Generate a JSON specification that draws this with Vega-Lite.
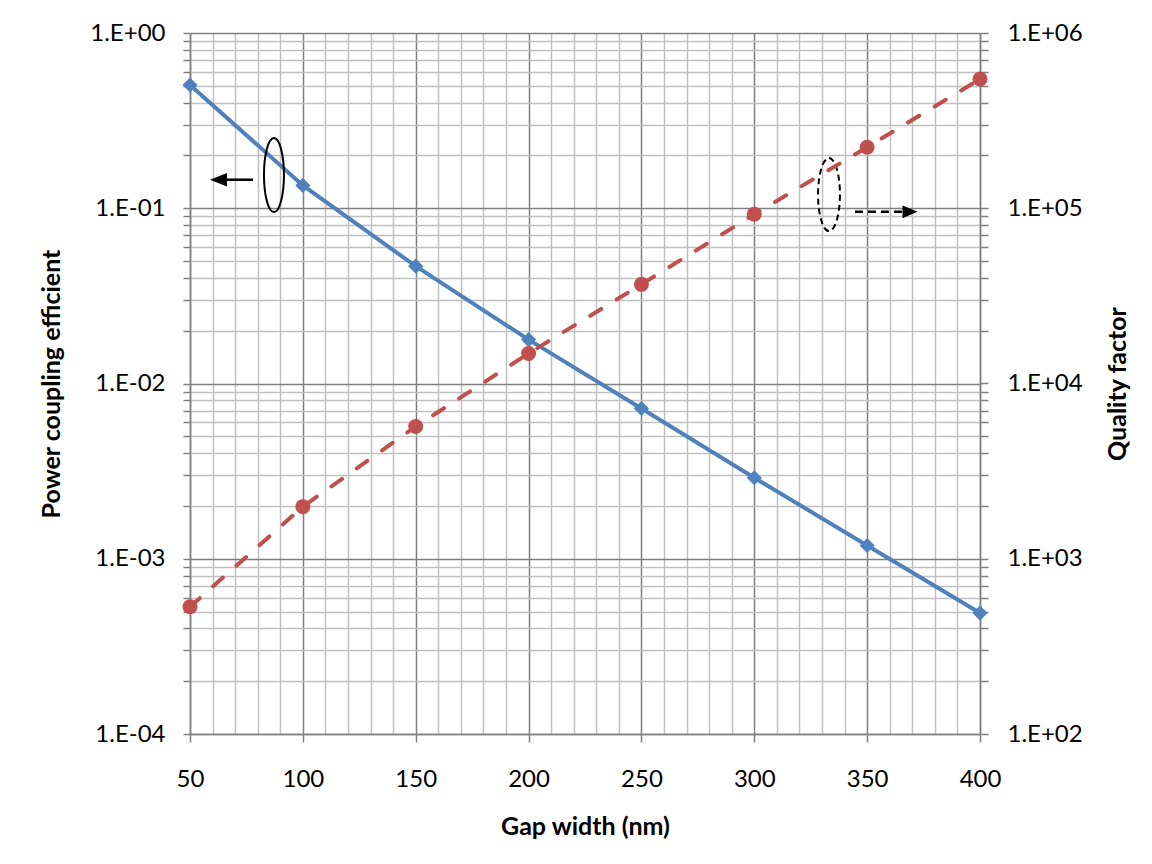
{
  "$schema": "https://vega.github.io/schema/vega-lite/v6.json",
  "width": 790,
  "height": 701,
  "autosize": {"type": "none"},
  "padding": {"left": 190, "top": 33, "right": 172, "bottom": 130},
  "background": "white",
  "config": {
    "view": {"stroke": null},
    "font": "Lato",
    "axis": {
      "labelFont": "Lato",
      "labelFontSize": 24,
      "labelColor": "#000000",
      "titleFont": "Lato",
      "titleFontSize": 25,
      "titleFontWeight": "bold",
      "titleColor": "#000000",
      "domainColor": "#808080",
      "domainWidth": 1.5,
      "tickColor": "#808080",
      "tickWidth": 1.5,
      "labelOverlap": false,
      "labelBound": false,
      "labelFlush": false
    }
  },
  "datasets": {
    "coupling": [
      {"gap": 50, "coupling": 0.505},
      {"gap": 100, "coupling": 0.135},
      {"gap": 150, "coupling": 0.0467},
      {"gap": 200, "coupling": 0.0178},
      {"gap": 250, "coupling": 0.0072},
      {"gap": 300, "coupling": 0.0029},
      {"gap": 350, "coupling": 0.00119},
      {"gap": 400, "coupling": 0.00049}
    ],
    "quality": [
      {"gap": 50, "quality": 532},
      {"gap": 100, "quality": 1983},
      {"gap": 150, "quality": 5680},
      {"gap": 200, "quality": 14840},
      {"gap": 250, "quality": 36800},
      {"gap": 300, "quality": 92400},
      {"gap": 350, "quality": 223000},
      {"gap": 400, "quality": 546000}
    ]
  },
  "layer": [
    {
      "encoding": {
        "x": {
          "field": "gap",
          "type": "quantitative",
          "scale": {"domain": [50, 400], "nice": false, "zero": false},
          "axis": {
            "title": "Gap width (nm)",
            "values": [50, 60, 70, 80, 90, 100, 110, 120, 130, 140, 150, 160, 170, 180, 190, 200, 210, 220, 230, 240, 250, 260, 270, 280, 290, 300, 310, 320, 330, 340, 350, 360, 370, 380, 390, 400],
            "tickCount": 1000,
            "labelExpr": "indexof([50, 100, 150, 200, 250, 300, 350, 400], datum.value) >= 0 ? '' + datum.value : ''",
            "labelOverlap": false,
            "labelFontSize": 24,
            "grid": true,
            "gridColor": {"condition": {"test": "indexof([50, 100, 150, 200, 250, 300, 350, 400], datum.value) >= 0", "value": "#808080"}, "value": "#c0c0c0"},
            "gridWidth": 1.5,
            "tickSize": 8,
            "tickOpacity": {"condition": {"test": "indexof([50, 100, 150, 200, 250, 300, 350, 400], datum.value) >= 0", "value": 1}, "value": 0},
            "labelPadding": 25,
            "titlePadding": 23
          }
        },
        "y": {
          "field": "coupling",
          "type": "quantitative",
          "scale": {"type": "log", "domain": [0.0001, 1], "nice": false},
          "axis": {
            "title": "Power coupling efficient",
            "orient": "left",
            "values": [0.0001, 0.0002, 0.0003, 0.0004, 0.0005, 0.0006, 0.0007, 0.0008, 0.0009, 0.001, 0.002, 0.003, 0.004, 0.005, 0.006, 0.007, 0.008, 0.009, 0.01, 0.02, 0.03, 0.04, 0.05, 0.06, 0.07, 0.08, 0.09, 0.1, 0.2, 0.3, 0.4, 0.5, 0.6, 0.7, 0.8, 0.9, 1],
            "tickCount": 1000,
            "labelExpr": "abs(log(datum.value)/LN10 - round(log(datum.value)/LN10)) < 0.001 ? '1.E' + (round(log(datum.value)/LN10) < 0 ? '-' : '+') + (abs(round(log(datum.value)/LN10)) < 10 ? '0' : '') + abs(round(log(datum.value)/LN10)) : ''",
            "labelOverlap": false,
            "labelFontSize": 24,
            "grid": true,
            "gridColor": {"condition": {"test": "abs(log(datum.value)/LN10 - round(log(datum.value)/LN10)) < 0.001", "value": "#808080"}, "value": "#c0c0c0"},
            "gridWidth": 1.5,
            "tickSize": 7,
            "labelPadding": 18,
            "titlePadding": 25
          }
        }
      },
      "layer": [
        {
          "data": {"name": "coupling"},
          "mark": {"type": "line", "color": "#4F81BD", "strokeWidth": 4}
        },
        {
          "data": {"name": "coupling"},
          "mark": {"type": "point", "shape": "diamond", "filled": true, "color": "#4F81BD", "size": 230, "opacity": 1}
        },
        {
          "data": {"values": [{"gap": 87.2, "coupling": 0.1547}]},
          "mark": {"type": "point", "shape": "M 0 -1 C 0.149 -1 0.27 -0.5523 0.27 0 C 0.27 0.5523 0.149 1 0 1 C -0.149 1 -0.27 0.5523 -0.27 0 C -0.27 -0.5523 -0.149 -1 0 -1 Z", "size": 5476, "filled": false, "stroke": "#000000", "strokeWidth": 2, "opacity": 1}
        },
        {
          "data": {"values": [{"gap": 333.1, "coupling": 0.1197}]},
          "mark": {"type": "point", "shape": "M 0 -1 C 0.166 -1 0.3 -0.5523 0.3 0 C 0.3 0.5523 0.166 1 0 1 C -0.166 1 -0.3 0.5523 -0.3 0 C -0.3 -0.5523 -0.166 -1 0 -1 Z", "size": 5329, "filled": false, "stroke": "#000000", "strokeWidth": 2, "strokeDash": [6, 4], "opacity": 1}
        },
        {
          "data": {"values": [{"gap": 65, "gap2": 77.9, "coupling": 0.1455}]},
          "mark": {"type": "rule", "color": "#000000", "strokeWidth": 2.5},
          "encoding": {"x2": {"field": "gap2"}}
        },
        {
          "data": {"values": [{"gap": 62.6, "coupling": 0.1455}]},
          "mark": {"type": "point", "shape": "M -1 0 L 1 -0.8 L 1 0.8 Z", "size": 289, "filled": true, "color": "#000000", "opacity": 1}
        },
        {
          "data": {"values": [{"gap": 344.6, "gap2": 366, "coupling": 0.0955}]},
          "mark": {"type": "rule", "color": "#000000", "strokeWidth": 2.5, "strokeDash": [8, 5]},
          "encoding": {"x2": {"field": "gap2"}}
        },
        {
          "data": {"values": [{"gap": 369, "coupling": 0.0955}]},
          "mark": {"type": "point", "shape": "M 1 0 L -1 -0.85 L -1 0.85 Z", "size": 225, "filled": true, "color": "#000000", "opacity": 1}
        }
      ]
    },
    {
      "data": {"name": "quality"},
      "encoding": {
        "x": {"field": "gap", "type": "quantitative"},
        "y": {
          "field": "quality",
          "type": "quantitative",
          "scale": {"type": "log", "domain": [100, 1000000], "nice": false},
          "axis": {
            "title": "Quality factor",
            "orient": "right",
            "titleAngle": 270,
            "values": [100, 200, 300, 400, 500, 600, 700, 800, 900, 1000, 2000, 3000, 4000, 5000, 6000, 7000, 8000, 9000, 10000, 20000, 30000, 40000, 50000, 60000, 70000, 80000, 90000, 100000, 200000, 300000, 400000, 500000, 600000, 700000, 800000, 900000, 1000000],
            "tickCount": 1000,
            "labelExpr": "abs(log(datum.value)/LN10 - round(log(datum.value)/LN10)) < 0.001 ? '1.E' + (round(log(datum.value)/LN10) < 0 ? '-' : '+') + (abs(round(log(datum.value)/LN10)) < 10 ? '0' : '') + abs(round(log(datum.value)/LN10)) : ''",
            "labelOverlap": false,
            "labelFontSize": 24,
            "grid": false,
            "tickSize": 8,
            "labelPadding": 19,
            "titlePadding": 48
          }
        }
      },
      "layer": [
        {
          "mark": {"type": "line", "color": "#C0504D", "strokeWidth": 4, "strokeDash": [13, 18], "strokeCap": "round"}
        },
        {
          "mark": {"type": "point", "shape": "circle", "filled": true, "color": "#C0504D", "size": 225, "opacity": 1}
        }
      ]
    }
  ],
  "resolve": {"scale": {"y": "independent"}, "axis": {"y": "independent"}}
}
